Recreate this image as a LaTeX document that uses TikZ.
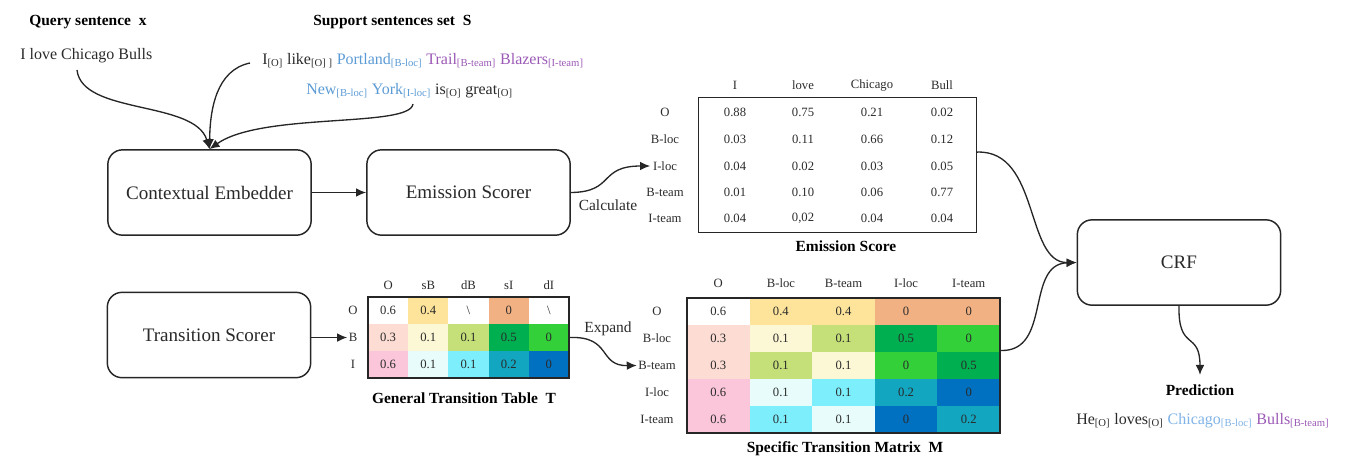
\documentclass[tikz,border=0pt]{standalone}
\usepackage{fontspec}
\setmainfont{Liberation Serif}
\usetikzlibrary{arrows.meta,calc}
\definecolor{cY}{HTML}{FDE49A}
\definecolor{cOr}{HTML}{F2B183}
\definecolor{cPa}{HTML}{FDDDD3}
\definecolor{cPy}{HTML}{FCF8D5}
\definecolor{cYG}{HTML}{C6E079}
\definecolor{cG}{HTML}{00B050}
\definecolor{cBG}{HTML}{33D03A}
\definecolor{cPk}{HTML}{FBC6D9}
\definecolor{cLC}{HTML}{E8FDFB}
\definecolor{cC}{HTML}{7DEFFC}
\definecolor{cT}{HTML}{12A6C0}
\definecolor{cB}{HTML}{0070C0}
\definecolor{locc}{HTML}{5B9BD5}
\definecolor{teamc}{HTML}{9B59B6}
\definecolor{locl}{HTML}{7FB3E6}
\definecolor{txt}{HTML}{2A2A2A}
\newcommand\tg[2]{#1\textsubscript{[#2]}}
\begin{document}
\begin{tikzpicture}[x=0.75pt,y=-0.75pt,
  blk/.style={draw=black!85,line width=1.1pt,rounded corners=11pt,minimum width=152.5pt,minimum height=64pt,font=\fontsize{14.3}{17}\selectfont,text=txt},
  frame/.style={draw=black!85,line width=1.1pt,inner sep=0pt},
  cell/.style={inner sep=0pt,draw=none,font=\fontsize{9.5}{11}\selectfont,text=txt},
  lab/.style={inner sep=0pt,font=\fontsize{9.5}{11}\selectfont,text=txt},
  head/.style={inner sep=0pt,font=\fontsize{11.6}{14}\bfseries\selectfont,text=black},
  sent/.style={inner sep=0pt,font=\fontsize{12}{14}\selectfont,text=txt},
  conn/.style={-{Latex[length=7.5pt,width=6.5pt]},line width=1pt,black!85},
]
\useasboundingbox (0,0) rectangle (1356,472);

% input texts
\node[head,anchor=west] (qh) at (29,22) {Query sentence~~x};
\node[sent,anchor=west] (qs) at (20,56) {I love Chicago Bulls};
\node[head,anchor=west] (sh) at (313,22) {Support sentences set~~S};
\node[sent,anchor=base west] (s1) at (262,64) {\tg{I}{O} \tg{like}{O] } \textcolor{locc}{\tg{Portland}{B-loc}} \textcolor{teamc}{\tg{Trail}{B-team}} \textcolor{teamc}{\tg{Blazers}{I-team}}};
\node[sent,anchor=base west] (s2) at (306,94) {\textcolor{locc}{\tg{New}{B-loc}}~\textcolor{locc}{\tg{York}{I-loc}} \tg{is}{O} \tg{great}{O}};
\coordinate (qa) at (77,70);
\coordinate (sa1) at (250,63);
\coordinate (sa2) at (413,104);

% main blocks
\node[blk] (CE) at (209.5,192.5) {Contextual Embedder};
\node[blk] (ES) at (468.5,192.5) {Emission Scorer};
\node[blk] (TS) at (209,335) {Transition Scorer};
\node[blk] (CRF) at (1179,262.5) {CRF};

\draw[conn] (qa) .. controls (82,115) and (195,100) .. (CE.north);
\draw[conn] (sa1) .. controls (216,70) and (210,110) .. (CE.north);
\draw[conn] (sa2) .. controls (410,128) and (262,112) .. (CE.north);
\draw[conn] (CE.east) -- (ES.west);

% emission table
\node[frame,minimum width=208.5pt,minimum height=100.9pt] (ET) at (837.5,165) {};
\foreach \h/\x [count=\c] in {I/735,love/803,Chicago/872,Bull/942}
  \node[lab] (eh\c) at (\x,85) {\h};
\foreach \lab/\y/\a/\b/\cc/\d [count=\r] in {O/112/0.88/0.75/0.21/0.02, B-loc/139/0.03/0.11/0.66/0.12, I-loc/166/0.04/0.02/0.03/0.05, B-team/192/0.01/0.10/0.06/0.77, I-team/218/0.04/{0,02}/0.04/0.04}{
  \node[lab] (el\r) at (665,\y) {\lab};
  \node[cell] (e-\r-1) at (735,\y) {\a};
  \node[cell] (e-\r-2) at (803,\y) {\b};
  \node[cell] (e-\r-3) at (872,\y) {\cc};
  \node[cell] (e-\r-4) at (942,\y) {\d};
}
\node[head] (etl) at (846,246) {Emission Score};
\draw[conn] (ES.east) .. controls (615,192) and (598,166) .. ([xshift=-2pt]el3.west);
\node[sent,font=\fontsize{11.6}{14}\selectfont] (calc) at (608,205) {Calculate};

% general transition table
\foreach \h [count=\c] in {O,sB,dB,sI,dI}
  \node[lab] (gh\c) at ({368+40.2*(\c-0.5)},285) {\h};
\foreach \lab/\row [count=\r] in {O/{0.6/white,0.4/cY,{\textbackslash}/white,0/cOr,{\textbackslash}/white},
  B/{0.3/cPa,0.1/cPy,0.1/cYG,0.5/cG,0/cBG},
  I/{0.6/cPk,0.1/cLC,0.1/cC,0.2/cT,0/cB}}{
  \node[lab] (gl\r) at (353,{297+27*(\r-0.5)}) {\lab};
  \foreach \v/\col [count=\c] in \row
    \node[cell,fill=\col,minimum width=30.3pt,minimum height=20.4pt] (g-\r-\c) at ({368+40.2*(\c-0.5)},{297+27*(\r-0.5)}) {\v};
}
\node[frame,minimum width=150.75pt,minimum height=60.75pt] (GT) at (468.5,337.5) {};
\node[head] (gtl) at (464,398) {General Transition Table~~T};
\draw[conn] (TS.east |- gl2.west) -- ([xshift=-1pt]gl2.west);

% specific transition matrix
\foreach \h [count=\c] in {O,B-loc,B-team,I-loc,I-team}
  \node[lab] (sh\c) at ({687+62.6*(\c-0.5)},283) {\h};
\foreach \lab/\row [count=\r] in {O/{0.6/white,0.4/cY,0.4/cY,0/cOr,0/cOr},
  B-loc/{0.3/cPa,0.1/cPy,0.1/cYG,0.5/cG,0/cBG},
  B-team/{0.3/cPa,0.1/cYG,0.1/cPy,0/cBG,0.5/cG},
  I-loc/{0.6/cPk,0.1/cLC,0.1/cC,0.2/cT,0/cB},
  I-team/{0.6/cPk,0.1/cC,0.1/cLC,0/cB,0.2/cT}}{
  \node[lab] (sl\r) at (657,{298+27*(\r-0.5)}) {\lab};
  \foreach \v/\col [count=\c] in \row
    \node[cell,fill=\col,minimum width=47.1pt,minimum height=20.4pt] (s-\r-\c) at ({687+62.6*(\c-0.5)},{298+27*(\r-0.5)}) {\v};
}
\node[frame,minimum width=234.75pt,minimum height=101.25pt] (SM) at (843.5,365.5) {};
\node[head] (sml) at (845,449) {Specific Transition Matrix~~M};
\draw[conn] (GT.east) .. controls (612,336) and (598,366) .. ([xshift=-1pt]sl3.west);
\node[sent,font=\fontsize{11.6}{14}\selectfont] (exp) at (608,329) {Expand};

% to CRF
\coordinate (eto) at ($(ET.north east)!0.405!(ET.south east)$);
\coordinate (smo) at ($(SM.north east)!0.39!(SM.south east)$);
\draw[conn] (eto) .. controls (1040,150) and (1025,263) .. (CRF.west);
\draw[conn] (smo) .. controls (1052,352) and (1025,264) .. (CRF.west);

% prediction
\node[head] (pred) at (1200,390) {Prediction};
\draw[conn] (CRF.south) .. controls (1178,352) and (1200,330) .. ([yshift=7pt]pred.north);
\node[sent,anchor=base west] (ps) at (1076,424) {\tg{He}{O} \tg{loves}{O} \textcolor{locl}{\tg{Chicago}{B-loc}} \textcolor{teamc}{\tg{Bulls}{B-team}}};
\end{tikzpicture}
\end{document}
